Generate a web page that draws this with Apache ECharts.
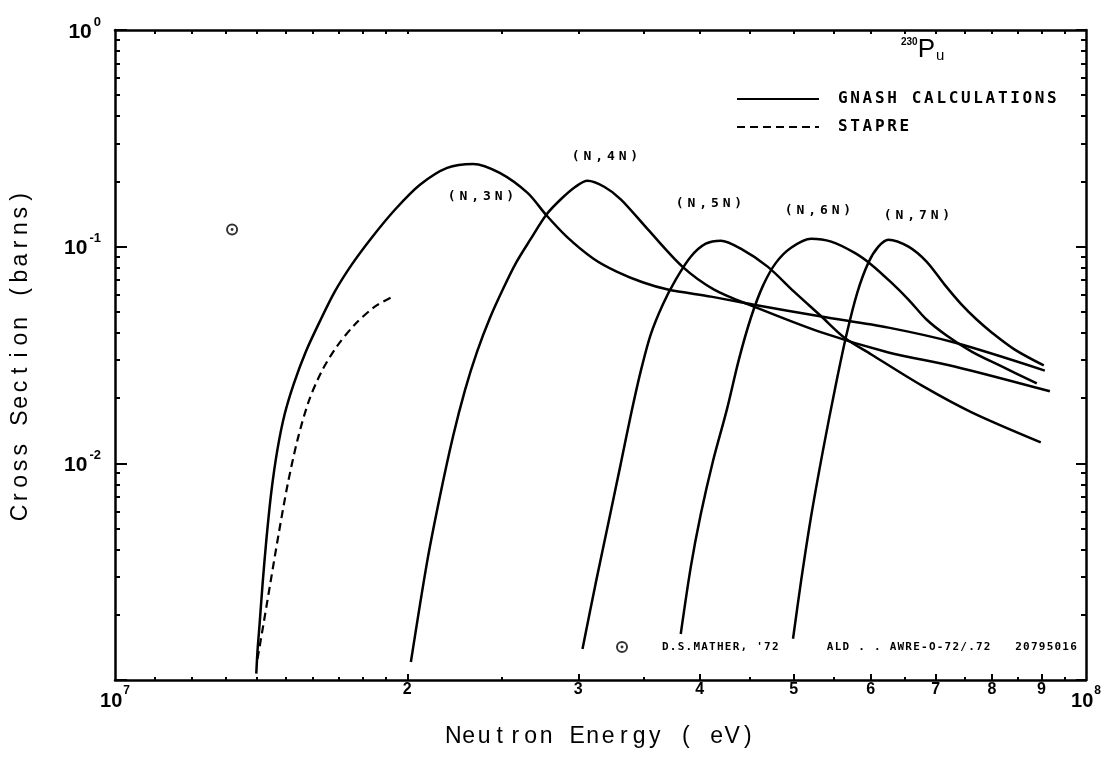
<!DOCTYPE html>
<html>
<head>
<meta charset="utf-8">
<title>230Pu (n,xn) cross sections</title>
<script src="https://cdn.jsdelivr.net/npm/echarts@6.0.0/dist/echarts.min.js"></script>
<style>
html, body { margin: 0; padding: 0; background: #fff; }
#chart { width: 1107px; height: 762px; }
</style>
</head>
<body>
<div id="chart"></div>
<script>
// energies in MeV, cross sections in barns
const n3nEnergy = [13.98, 14.02, 14.09, 14.19, 14.32, 14.49, 14.70, 14.95, 15.27, 15.71, 16.25, 16.84, 17.53, 18.38, 19.42, 20.61, 21.98, 23.38, 24.9, 26.6, 27.8, 29.2, 31.1, 32.9, 35.0, 37.1, 41.1, 45.5, 53.4, 62.6, 73.2, 90.7];
const n3nSigma  = [0.00107, 0.00136, 0.00181, 0.00277, 0.00447, 0.00743, 0.0116, 0.0168, 0.0231, 0.0325, 0.0451, 0.0620, 0.0826, 0.110, 0.148, 0.193, 0.231, 0.241, 0.219, 0.177, 0.140, 0.111, 0.0880, 0.0765, 0.0683, 0.0634, 0.0588, 0.054, 0.0476, 0.0423, 0.0361, 0.0268];

const n4nEnergy = [20.17, 20.96, 21.61, 22.29, 22.94, 23.60, 24.34, 25.11, 25.89, 26.77, 27.81, 28.75, 29.80, 30.66, 31.9, 33.2, 35.4, 38.4, 41.4, 45.5, 53.4, 62.6, 73.2, 91.8];
const n4nSigma  = [0.00121, 0.0035, 0.00705, 0.0133, 0.0219, 0.0328, 0.0471, 0.0641, 0.0844, 0.1077, 0.1404, 0.1646, 0.189, 0.2014, 0.189, 0.165, 0.1198, 0.0809, 0.0634, 0.0529, 0.0402, 0.0325, 0.028, 0.0215];

const n5nEnergy = [30.30, 31.25, 32.23, 33.17, 33.96, 34.78, 35.62, 36.65, 37.80, 39.17, 40.59, 42.07, 44.1, 47.0, 50.04, 53.4, 56.36, 60.11, 67.71, 76.25, 89.83];
const n5nSigma  = [0.00139, 0.00277, 0.00535, 0.00989, 0.0165, 0.0265, 0.0393, 0.0540, 0.0705, 0.0899, 0.1032, 0.1066, 0.0979, 0.0809, 0.0620, 0.0476, 0.0381, 0.0318, 0.0229, 0.0172, 0.0125];

const n6nEnergy = [38.25, 39.17, 40.11, 41.28, 42.67, 43.91, 45.18, 46.49, 47.95, 49.69, 52.11, 54.65, 57.73, 60.11, 63.04, 65.64, 68.51, 71.85, 76.25, 81.88, 88.99];
const n6nSigma  = [0.00163, 0.00332, 0.00582, 0.0102, 0.0177, 0.0302, 0.0471, 0.0661, 0.0844, 0.0989, 0.1088, 0.1055, 0.0938, 0.0826, 0.0682, 0.0570, 0.0461, 0.0389, 0.0328, 0.0280, 0.0234];

const n7nEnergy = [49.92, 50.88, 52.11, 53.62, 55.18, 56.64, 58.14, 59.69, 61.12, 62.59, 65.64, 68.51, 71.51, 74.46, 77.16, 79.96, 84.46, 90.48];
const n7nSigma  = [0.00155, 0.00286, 0.0057, 0.0116, 0.0224, 0.0389, 0.0614, 0.0844, 0.1, 0.1077, 0.1, 0.0853, 0.0668, 0.0540, 0.0461, 0.0402, 0.0335, 0.0283];

const stapreEnergy = [14.02, 14.22, 14.46, 14.74, 15.06, 15.42, 15.83, 16.32, 16.92, 17.66, 18.52, 19.33];
const stapreSigma  = [0.00125, 0.00181, 0.00283, 0.00471, 0.0080, 0.0129, 0.0193, 0.0265, 0.0346, 0.0437, 0.0529, 0.0588];

// experimental point (Mather '72)
const matherEnergy = [13.2];
const matherSigma  = [0.12];

// axis ticks / labels
const xLabelValues = [1e7, 2e7, 3e7, 4e7, 5e7, 6e7, 7e7, 8e7, 9e7, 1e8];
const xMajorTicks  = [2e7, 3e7, 4e7, 5e7, 6e7, 7e7, 8e7, 9e7];
const xMinorTicks  = [1.1e7, 1.2e7, 1.3e7, 1.4e7, 1.5e7, 1.6e7, 1.7e7, 1.8e7, 1.9e7,
                      2.5e7, 3.5e7, 4.5e7, 5.5e7, 6.5e7, 7.5e7, 8.5e7, 9.5e7];
const yLabelValues = [0.01, 0.1, 1];
const yMajorTicks  = [0.001, 0.01, 0.1, 1];
const yMinorTicks  = [0.002, 0.003, 0.004, 0.005, 0.006, 0.007, 0.008, 0.009,
                      0.02, 0.03, 0.04, 0.05, 0.06, 0.07, 0.08, 0.09,
                      0.2, 0.3, 0.4, 0.5, 0.6, 0.7, 0.8, 0.9];

const reactionLabels = ['(N,3N)', '(N,4N)', '(N,5N)', '(N,6N)', '(N,7N)'];
const GNASH = 'GNASH CALCULATIONS';
const STAPRE = 'STAPRE';
const MATHER = "D.S.MATHER, '72      ALD . . AWRE-O-72/.72   20795016";

const MONO = '"DejaVu Sans Mono", "Liberation Mono", monospace';
const SANS = '"Liberation Sans", "DejaVu Sans", sans-serif';

// wrap every character in its own fixed-width rich cell (wide letter spacing)
function spaced(str, cls) {
    return str.split('').map(c => '{' + cls + '|' + c + '}').join('');
}
function pairs(e, s) {
    return e.map((v, i) => [v * 1e6, s[i]]);
}

const black = '#000';
const lineBase = {
    type: 'line', xAxisIndex: 0, yAxisIndex: 0,
    showSymbol: false, symbol: 'none', smooth: 0.3, silent: true,
    lineStyle: { color: black, width: 2.5 },
    itemStyle: { color: black }
};

function logX(extra) {
    return Object.assign({
        type: 'log', logBase: 10, min: 1e7, max: 1e8, gridIndex: 0,
        splitLine: { show: false }, axisLabel: { show: false },
        axisLine: { show: false }, axisTick: { show: false }
    }, extra);
}
function logY(extra) {
    return Object.assign({
        type: 'log', logBase: 10, min: 0.001, max: 1, gridIndex: 0,
        splitLine: { show: false }, axisLabel: { show: false },
        axisLine: { show: false }, axisTick: { show: false }
    }, extra);
}
const axisLine = { show: true, onZero: false, lineStyle: { color: black, width: 2.5 } };
function ticks(values, len) {
    return { show: true, inside: true, length: len, customValues: values, lineStyle: { color: black, width: 2 } };
}
function reactionText(x, y, label) {
    return {
        type: 'text', x: x, y: y,
        style: {
            text: spaced(label, 'c'), align: 'center', verticalAlign: 'middle',
            rich: { c: { width: 11.7, fontFamily: MONO, fontWeight: 'bold', fontSize: 13, fill: black } }
        }
    };
}

const chart = echarts.init(document.getElementById('chart'));

chart.setOption({
    animation: false,
    backgroundColor: '#fff',
    grid: { left: 115, right: 21, top: 30, bottom: 82, containLabel: false, outerBoundsMode: 'none' },
    xAxis: [
        logX({
            position: 'bottom',
            axisLine: axisLine,
            axisTick: ticks(xMajorTicks, 6),
            axisLabel: {
                show: true, margin: 2, customValues: xLabelValues, color: black,
                formatter: function (v) {
                    if (Math.abs(v / 1e7 - 1) < 1e-6) return '{b|10}{s|7}';
                    if (Math.abs(v / 1e8 - 1) < 1e-6) return '{b|10}{s|8}';
                    return '{d|' + Math.round(v / 1e7) + '}';
                },
                rich: {
                    d: { fontFamily: SANS, fontWeight: 'bold', fontSize: 16, color: black },
                    b: { fontFamily: SANS, fontWeight: 'bold', fontSize: 20, padding: [9, 0, 0, 0], color: black },
                    s: { fontFamily: SANS, fontWeight: 'bold', fontSize: 12, verticalAlign: 'top', padding: [3, 0, 0, 1], color: black }
                }
            },
            name: spaced('Neutron Energy ( eV)', 'n'),
            nameLocation: 'middle', nameGap: 44,
            nameTextStyle: {
                rich: { n: { width: 15.5, fontFamily: SANS, fontSize: 23, lineHeight: 26, color: black } }
            }
        }),
        logX({ position: 'bottom', axisTick: ticks(xMinorTicks, 3) }),
        logX({ position: 'top', axisLine: axisLine, axisTick: ticks(xMajorTicks.concat(xMinorTicks), 4) })
    ],
    yAxis: [
        logY({
            position: 'left',
            axisLine: axisLine,
            axisTick: ticks(yMajorTicks, 12),
            axisLabel: {
                show: true, margin: 14, customValues: yLabelValues, color: black,
                formatter: function (v) {
                    const p = Math.round(Math.log10(v));
                    return '{b|10}{s|' + p + '}';
                },
                rich: {
                    b: { fontFamily: SANS, fontWeight: 'bold', fontSize: 21, padding: [6, 0, 2, 0], color: black },
                    s: { fontFamily: SANS, fontWeight: 'bold', fontSize: 13, verticalAlign: 'top', padding: [0, 0, 0, 2], color: black }
                }
            },
            name: spaced('Cross Section (barns)', 'n'),
            nameLocation: 'middle', nameGap: 81,
            nameTextStyle: {
                rich: { n: { width: 15.8, fontFamily: SANS, fontSize: 23, lineHeight: 26, color: black } }
            }
        }),
        logY({ position: 'left', axisTick: ticks(yMinorTicks, 5) }),
        logY({ position: 'right', axisLine: axisLine, axisTick: ticks(yMajorTicks, 10) }),
        logY({ position: 'right', axisTick: ticks(yMinorTicks, 5) })
    ],
    legend: [
        {
            data: [GNASH, STAPRE],
            orient: 'vertical', left: 736, top: 91, padding: 0,
            itemWidth: 82, itemHeight: 14, itemGap: 12,
            selectedMode: false,
            itemStyle: { opacity: 0 },
            formatter: name => '{gap| }' + spaced(name, 'c'),
            textStyle: {
                color: black,
                rich: {
                    gap: { width: 14 },
                    c: { width: 12.3, fontFamily: MONO, fontWeight: 'bold', fontSize: 16, lineHeight: 16, color: black }
                }
            }
        },
        {
            data: [MATHER],
            orient: 'horizontal', left: 616, top: 641, padding: 0,
            itemWidth: 12, itemHeight: 12,
            selectedMode: false,
            formatter: name => '{gap| }' + spaced(name, 'c'),
            textStyle: {
                color: black,
                rich: {
                    gap: { width: 29 },
                    c: { width: 7.85, fontFamily: MONO, fontWeight: 'bold', fontSize: 11, lineHeight: 12, color: black }
                }
            }
        }
    ],
    graphic: [
        reactionText(481, 197, reactionLabels[0]),
        reactionText(605, 157, reactionLabels[1]),
        reactionText(709, 204, reactionLabels[2]),
        reactionText(818, 211, reactionLabels[3]),
        reactionText(917, 216, reactionLabels[4]),
        // target nucleus
        {
            type: 'text', x: 901, y: 63,
            style: {
                text: '{s|230}{p|P}{u|u}', align: 'left', verticalAlign: 'bottom',
                rich: {
                    s: { fontFamily: SANS, fontWeight: 'bold', fontSize: 10, verticalAlign: 'top', fill: black },
                    p: { fontFamily: SANS, fontSize: 26, fill: black },
                    u: { fontFamily: SANS, fontSize: 15, verticalAlign: 'bottom', padding: [0, 0, 0, 1], fill: black }
                }
            }
        }
    ],
    series: [
        Object.assign({}, lineBase, { name: GNASH, data: pairs(n3nEnergy, n3nSigma) }),
        Object.assign({}, lineBase, { name: GNASH, data: pairs(n4nEnergy, n4nSigma) }),
        Object.assign({}, lineBase, { name: GNASH, data: pairs(n5nEnergy, n5nSigma) }),
        Object.assign({}, lineBase, { name: GNASH, data: pairs(n6nEnergy, n6nSigma) }),
        Object.assign({}, lineBase, { name: GNASH, data: pairs(n7nEnergy, n7nSigma) }),
        Object.assign({}, lineBase, {
            name: STAPRE, data: pairs(stapreEnergy, stapreSigma),
            lineStyle: { color: black, width: 2.2, type: [8, 5] }
        }),
        {
            name: MATHER, type: 'scatter', xAxisIndex: 0, yAxisIndex: 0, silent: true,
            symbol: 'path://M12,1A11,11 0 1,1 12,23A11,11 0 1,1 12,1Z M12,4.6A7.4,7.4 0 1,0 12,19.4A7.4,7.4 0 1,0 12,4.6Z M12,9.3A2.7,2.7 0 1,1 12,14.7A2.7,2.7 0 1,1 12,9.3Z',
            symbolSize: 12,
            itemStyle: { color: black },
            data: pairs(matherEnergy, matherSigma)
        }
    ]
});
</script>
</body>
</html>
